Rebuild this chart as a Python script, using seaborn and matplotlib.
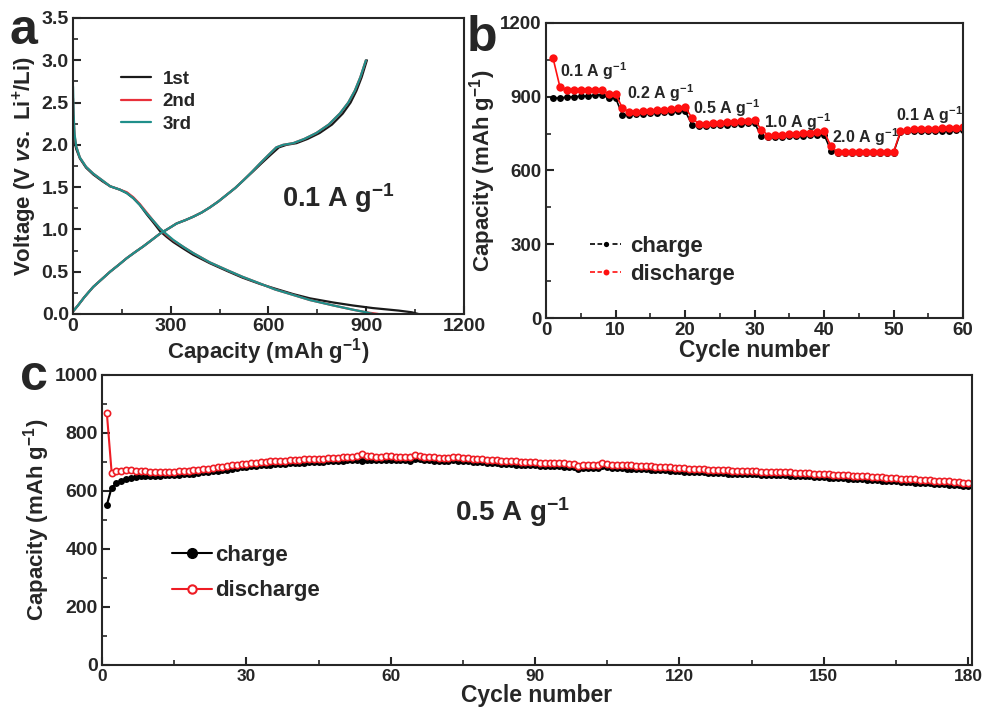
import numpy as np
import pandas as pd
import matplotlib
matplotlib.use("Agg")
import matplotlib.pyplot as plt
import seaborn as sns
from matplotlib.ticker import MultipleLocator
from matplotlib.lines import Line2D

# ---- panel a: voltage profiles (capacity, voltage) ----
dis_cap_1 = [0, 2, 5, 10, 21, 40, 62, 90, 114, 144, 165, 185, 205, 226, 247, 267, 288, 308,
             340, 369, 420, 472, 520, 574, 620, 676, 727, 800, 860, 920, 1000, 1040, 1060]
dis_v_1 = [2.35, 2.15, 2.03, 1.95, 1.84, 1.73, 1.65, 1.57, 1.51, 1.47, 1.43, 1.37, 1.29, 1.18, 1.08,
           0.98, 0.91, 0.85, 0.77, 0.70, 0.60, 0.51, 0.43, 0.355, 0.30, 0.235, 0.185, 0.135,
           0.10, 0.07, 0.04, 0.02, 0.0]
dis_cap_2 = [0, 2, 5, 10, 21, 40, 62, 90, 114, 144, 165, 185, 205, 226, 247, 267, 288, 308,
             340, 369, 420, 472, 520, 574, 620, 676, 727, 800, 860, 900, 937]
dis_v_2 = [2.55, 2.30, 2.10, 1.98, 1.85, 1.74, 1.66, 1.58, 1.51, 1.47, 1.44, 1.38, 1.30, 1.20, 1.10,
           1.01, 0.93, 0.87, 0.79, 0.72, 0.61, 0.52, 0.44, 0.36, 0.29, 0.225, 0.165, 0.10,
           0.05, 0.02, 0.0]
dis_cap_3 = [0, 2, 5, 10, 21, 40, 62, 90, 114, 144, 165, 185, 205, 226, 247, 267, 288, 308,
             340, 369, 420, 472, 520, 574, 620, 676, 727, 800, 860, 900, 921]
dis_v_3 = [2.69, 2.35, 2.12, 1.98, 1.85, 1.74, 1.66, 1.58, 1.51, 1.47, 1.43, 1.37, 1.29, 1.19, 1.10,
           1.01, 0.94, 0.875, 0.79, 0.72, 0.61, 0.52, 0.44, 0.36, 0.29, 0.225, 0.165, 0.10,
           0.05, 0.02, 0.0]

chg_cap_1 = [0, 15, 35, 62, 88, 114, 140, 165, 190, 216, 240, 267, 293, 318, 345, 369, 395, 420,
             446, 472, 498, 523, 551, 578, 606, 632, 655, 686, 720, 757, 795, 828, 852, 870, 886, 902]
chg_cap_2 = [0, 15, 35, 62, 88, 114, 140, 165, 190, 216, 240, 267, 293, 318, 345, 369, 395, 420,
             446, 472, 498, 523, 549, 574, 600, 624, 645, 676, 710, 747, 785, 819, 845, 865, 882, 899]
chg_cap_3 = [0, 15, 35, 62, 88, 114, 140, 165, 190, 216, 240, 267, 293, 318, 345, 369, 395, 420,
             446, 472, 498, 523, 549, 574, 600, 624, 645, 676, 710, 747, 785, 819, 845, 865, 882, 899]
chg_v = [0.03, 0.10, 0.20, 0.32, 0.41, 0.50, 0.58, 0.66, 0.73, 0.80, 0.87, 0.95, 1.01, 1.07, 1.11,
         1.15, 1.20, 1.26, 1.33, 1.41, 1.49, 1.58, 1.68, 1.78, 1.88, 1.97, 2.00, 2.02, 2.07, 2.14,
         2.24, 2.37, 2.50, 2.64, 2.80, 3.00]

cycle_labels = ["1st", "2nd", "3rd"]
cycle_colors = ["#1a1a1a", "#e8303a", "#1f8f8a"]

# ---- panel b: rate performance ----
rate_cycle = list(range(1, 61))
rate_charge = [895, 895, 898, 900, 902, 903, 906, 908, 895, 895,
               827, 827, 828, 830, 832, 834, 836, 838, 840, 843,
               786, 782, 783, 784, 786, 787, 789, 790, 792, 793,
               739, 736, 737, 738, 740, 741, 742, 744, 745, 746,
               681, 671, 671, 671, 671, 671, 671, 671, 671, 672,
               755, 759, 760, 760, 761, 761, 762, 762, 763, 763]
rate_discharge = [1058, 940, 929, 928, 927, 927, 928, 929, 911, 911,
                  854, 837, 838, 840, 842, 845, 848, 851, 855, 858,
                  814, 789, 790, 792, 794, 796, 798, 800, 802, 804,
                  766, 742, 743, 745, 747, 749, 752, 754, 757, 759,
                  698, 674, 674, 674, 674, 674, 674, 674, 674, 675,
                  759, 766, 767, 768, 769, 770, 771, 772, 774, 776]
rate_labels = ["0.1 A g$^{-1}$", "0.2 A g$^{-1}$", "0.5 A g$^{-1}$",
               "1.0 A g$^{-1}$", "2.0 A g$^{-1}$", "0.1 A g$^{-1}$"]
rate_label_x = [2.0, 11.6, 21.2, 31.3, 41.1, 50.4]
rate_label_y = [1006, 915, 854, 796, 736, 827]

# ---- panel c: long cycling at 0.5 A/g ----
long_cycle = list(range(1, 181))
long_discharge = [868, 663, 668, 670, 671, 671, 670, 669, 668, 667,
                  666, 666, 666, 667, 667, 668, 669, 670, 671, 673,
                  675, 677, 679, 681, 683, 685, 688, 690, 692, 694,
                  696, 698, 699, 701, 702, 703, 704, 705, 706, 707,
                  708, 709, 710, 710, 711, 712, 713, 714, 715, 716,
                  717, 718, 719, 729, 720, 719, 718, 718, 719, 719,
                  718, 717, 717, 716, 723, 720, 718, 717, 716, 715,
                  715, 714, 718, 716, 714, 713, 712, 711, 710, 708,
                  707, 706, 705, 704, 703, 702, 701, 700, 700, 699,
                  698, 697, 697, 696, 696, 695, 694, 693, 686, 689,
                  690, 690, 689, 697, 692, 691, 690, 689, 688, 688,
                  687, 686, 686, 685, 684, 683, 682, 681, 680, 679,
                  678, 677, 676, 676, 675, 674, 673, 672, 672, 671,
                  670, 670, 669, 669, 668, 668, 667, 667, 666, 666,
                  665, 665, 664, 663, 663, 662, 661, 660, 659, 658,
                  657, 656, 655, 655, 654, 653, 652, 651, 650, 649,
                  648, 647, 646, 645, 644, 643, 642, 641, 640, 639,
                  638, 637, 636, 635, 634, 633, 632, 630, 628, 626]
long_charge = [552, 612, 626, 636, 642, 646, 649, 651, 652, 653,
               653, 653, 654, 654, 655, 656, 657, 658, 660, 662,
               664, 666, 668, 670, 672, 674, 677, 679, 681, 683,
               685, 687, 688, 690, 691, 692, 693, 694, 695, 696,
               697, 698, 699, 699, 700, 701, 702, 703, 704, 705,
               706, 707, 708, 703, 708, 708, 707, 707, 708, 708,
               707, 706, 706, 705, 711, 709, 707, 706, 705, 704,
               704, 703, 707, 705, 703, 702, 701, 700, 699, 697,
               696, 695, 694, 693, 692, 691, 690, 689, 689, 688,
               687, 686, 686, 685, 685, 684, 683, 682, 676, 678,
               679, 679, 678, 686, 681, 680, 679, 678, 677, 677,
               676, 675, 675, 674, 673, 672, 671, 670, 669, 668,
               667, 666, 665, 665, 664, 663, 662, 661, 661, 660,
               659, 659, 658, 658, 657, 657, 656, 656, 655, 655,
               654, 654, 653, 652, 652, 651, 650, 649, 648, 647,
               646, 645, 644, 644, 643, 642, 641, 640, 639, 638,
               637, 636, 635, 634, 633, 632, 631, 630, 629, 628,
               627, 626, 625, 624, 623, 622, 621, 620, 618, 616]

sns.set_style("ticks")
plt.rcParams["font.family"] = ["Liberation Sans", "DejaVu Sans"]
plt.rcParams["font.weight"] = "bold"
plt.rcParams["axes.labelweight"] = "bold"
plt.rcParams["mathtext.fontset"] = "custom"
plt.rcParams["mathtext.rm"] = "Liberation Sans:bold"
plt.rcParams["mathtext.it"] = "Liberation Sans:bold:italic"
plt.rcParams["mathtext.bf"] = "Liberation Sans:bold"
plt.rcParams["axes.linewidth"] = 1.5
plt.rcParams["xtick.direction"] = "in"
plt.rcParams["ytick.direction"] = "in"

fig = plt.figure(figsize=(9.84, 7.11), dpi=100)
ax_a = fig.add_axes([0.0742, 0.5584, 0.3973, 0.4163])
ax_b = fig.add_axes([0.5549, 0.5527, 0.4238, 0.4150])
ax_c = fig.add_axes([0.1037, 0.0647, 0.8841, 0.4079])


def style_ticks(ax, xsize, ysize):
    ax.tick_params(which="major", length=6, width=1.5, pad=3)
    ax.tick_params(which="minor", length=3.5, width=1.2)
    ax.tick_params(axis="x", labelsize=xsize)
    ax.tick_params(axis="y", labelsize=ysize)
    for lab in ax.get_xticklabels() + ax.get_yticklabels():
        lab.set_fontweight("bold")


# panel a
dis_caps = [dis_cap_1, dis_cap_2, dis_cap_3]
dis_vs = [dis_v_1, dis_v_2, dis_v_3]
chg_caps = [chg_cap_1, chg_cap_2, chg_cap_3]
for i in range(3):
    sns.lineplot(x=dis_caps[i], y=dis_vs[i], ax=ax_a, color=cycle_colors[i],
                 lw=1.6, sort=False, label=cycle_labels[i])
    sns.lineplot(x=chg_caps[i], y=chg_v, ax=ax_a, color=cycle_colors[i],
                 lw=1.6, sort=False)
ax_a.set_xlim(0, 1200)
ax_a.set_ylim(0, 3.5)
ax_a.xaxis.set_major_locator(MultipleLocator(300))
ax_a.xaxis.set_minor_locator(MultipleLocator(150))
ax_a.yaxis.set_major_locator(MultipleLocator(0.5))
ax_a.yaxis.set_minor_locator(MultipleLocator(0.25))
ax_a.set_xlabel("Capacity (mAh g$^{-1}$)", fontsize=16, labelpad=1)
ax_a.set_ylabel("Voltage (V $\\it{vs.}$ Li$^{+}$/Li)", fontsize=16, labelpad=2)
style_ticks(ax_a, 14, 14)
ax_a.legend(loc="upper left", bbox_to_anchor=(0.08, 0.88), frameon=False,
            prop={"size": 13.5, "weight": "bold"}, handlelength=1.6,
            handletextpad=0.6, labelspacing=0.3)
ax_a.text(640, 1.37, "0.1 A g$^{-1}$", fontsize=19.5, fontweight="bold", va="center")

# panel b
sns.lineplot(x=rate_cycle, y=rate_charge, ax=ax_b, color="black", marker="o",
             markersize=5, markeredgewidth=0, lw=1.2)
sns.lineplot(x=rate_cycle, y=rate_discharge, ax=ax_b, color="#ff1010", marker="o",
             markersize=6, markeredgewidth=0, lw=1.2)
for lx, ly, lt in zip(rate_label_x, rate_label_y, rate_labels):
    ax_b.text(lx, ly, lt, fontsize=11.5, fontweight="bold", va="center")
ax_b.set_xlim(0, 60)
ax_b.set_ylim(0, 1200)
ax_b.xaxis.set_major_locator(MultipleLocator(10))
ax_b.xaxis.set_minor_locator(MultipleLocator(5))
ax_b.yaxis.set_major_locator(MultipleLocator(300))
ax_b.yaxis.set_minor_locator(MultipleLocator(150))
ax_b.set_xlabel("Cycle number", fontsize=16.5, labelpad=0)
ax_b.set_ylabel("Capacity (mAh g$^{-1}$)", fontsize=16, labelpad=2)
style_ticks(ax_b, 13.5, 13.5)
b_handles = [Line2D([], [], color="black", marker="o", markersize=5, lw=1.2,
                    ls=(0, (3, 1.5)), markeredgecolor="white", markeredgewidth=1.2),
             Line2D([], [], color="#ff1010", marker="o", markersize=5.5, lw=1.2,
                    ls=(0, (3, 1.5)), markeredgecolor="white", markeredgewidth=1.2)]
ax_b.legend(b_handles, ["charge", "discharge"], loc="lower left",
            bbox_to_anchor=(0.058, 0.045), frameon=False,
            prop={"size": 16, "weight": "bold"}, handlelength=1.4,
            handletextpad=0.4, labelspacing=0.3)

# panel c
sns.lineplot(x=long_cycle, y=long_charge, ax=ax_c, color="black", marker="o",
             markersize=5, markeredgewidth=0, lw=1.5)
sns.lineplot(x=long_cycle, y=long_discharge, ax=ax_c, color="#ee1c24", marker="o",
             markersize=4.5, markerfacecolor="white", markeredgecolor="#ee1c24",
             markeredgewidth=1.2, lw=1.5)
ax_c.set_xlim(0, 180.8)
ax_c.set_ylim(0, 1000)
ax_c.xaxis.set_major_locator(MultipleLocator(30))
ax_c.xaxis.set_minor_locator(MultipleLocator(15))
ax_c.yaxis.set_major_locator(MultipleLocator(200))
ax_c.yaxis.set_minor_locator(MultipleLocator(100))
ax_c.set_xlabel("Cycle number", fontsize=16.5, labelpad=0)
ax_c.set_ylabel("Capacity (mAh g$^{-1}$)", fontsize=16, labelpad=2)
style_ticks(ax_c, 12.5, 14)
ax_c.text(73.4, 527, "0.5 A g$^{-1}$", fontsize=20, fontweight="bold", va="center")
c_handles = [Line2D([], [], color="black", marker="o", markersize=7, lw=1.5),
             Line2D([], [], color="#ee1c24", marker="o", markersize=6, lw=1.5,
                    markerfacecolor="white", markeredgewidth=1.5)]
ax_c.legend(c_handles, ["charge", "discharge"], loc="lower left",
            bbox_to_anchor=(0.057, 0.15), frameon=False,
            prop={"size": 16, "weight": "bold"}, handlelength=1.8,
            handletextpad=0.15, labelspacing=0.65)

# panel letters
fig.text(0.010, 0.938, "a", fontsize=36, fontweight="bold")
fig.text(0.474, 0.928, "b", fontsize=36, fontweight="bold")
fig.text(0.020, 0.452, "c", fontsize=36, fontweight="bold")

fig.savefig("out.png", dpi=100)
